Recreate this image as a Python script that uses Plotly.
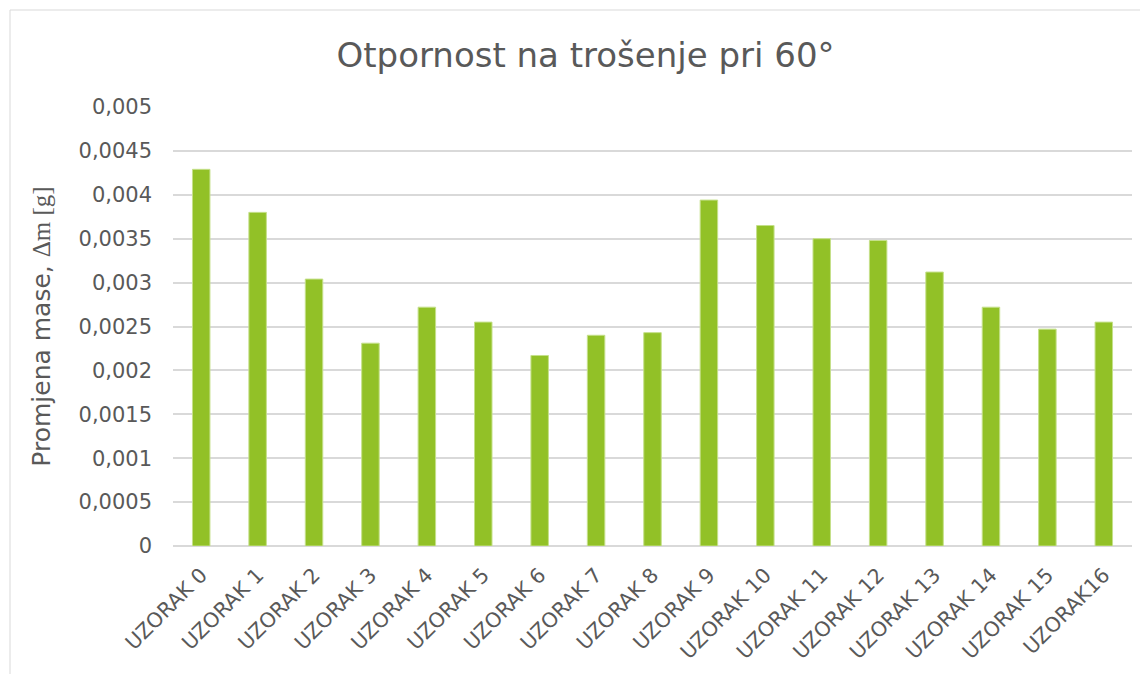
import plotly.graph_objects as go

categories = ["UZORAK 0", "UZORAK 1", "UZORAK 2", "UZORAK 3", "UZORAK 4", "UZORAK 5",
              "UZORAK 6", "UZORAK 7", "UZORAK 8", "UZORAK 9", "UZORAK 10", "UZORAK 11",
              "UZORAK 12", "UZORAK 13", "UZORAK 14", "UZORAK 15", "UZORAK16"]
values = [0.00429, 0.00380, 0.00304, 0.00231, 0.00272, 0.00255, 0.00217, 0.00240,
          0.00243, 0.00394, 0.00365, 0.00350, 0.00348, 0.00312, 0.00272, 0.00247, 0.00255]
tick_vals = [0, 0.0005, 0.001, 0.0015, 0.002, 0.0025, 0.003, 0.0035, 0.004, 0.0045, 0.005]
tick_text = ["0", "0,0005", "0,001", "0,0015", "0,002", "0,0025", "0,003", "0,0035",
             "0,004", "0,0045", "0,005"]

TXT = "#595959"
FONT = "DejaVu Sans"

fig = go.Figure(go.Bar(
    x=categories, y=values,
    marker=dict(color="#92c127", line=dict(color="#c5e08a", width=1)),
))

# page body has an 8px margin, so figure coords are screen coords minus 8
W, H = 1140, 666
L, R, T, B = 165, 16, 99, 128
pw, ph = W - L - R, H - T - B

def px_x(p):
    return (p - L) / pw

def px_y(p):
    return (H - B - p) / ph

fig.update_layout(
    width=W, height=H,
    margin=dict(l=L, r=R, t=T, b=B, autoexpand=False),
    paper_bgcolor="white", plot_bgcolor="white",
    bargap=0.69,
    showlegend=False,
    font=dict(family=FONT, color=TXT),
    title=dict(text="Otpornost na trošenje pri 60°", x=577.5 / W, xanchor="center",
               xref="container", y=1 - 47 / H, yanchor="middle",
               font=dict(size=34, color=TXT, family=FONT)),
    xaxis=dict(tickangle=-45, tickfont=dict(size=20.5, color=TXT), showgrid=False,
               showline=False, ticks="", ticklabelstandoff=12),
    yaxis=dict(range=[0, 0.005], tickvals=tick_vals, ticktext=tick_text,
               tickfont=dict(size=21, color=TXT), showgrid=True, gridcolor="#d9d9d9",
               gridwidth=1.5, zeroline=True, zerolinecolor="#d9d9d9", zerolinewidth=1.5,
               showline=False, ticks="", ticklabelstandoff=20,
               title=dict(text="Promjena mase, <span style='font-family:Liberation Serif'>Δm [g]</span>",
                          font=dict(size=25, color=TXT), standoff=20)),
    shapes=[dict(type="rect", xref="paper", yref="paper",
                 x0=px_x(2), x1=px_x(1160), y0=px_y(700), y1=px_y(2),
                 line=dict(color="#d9d9d9", width=1), fillcolor="rgba(0,0,0,0)", layer="below")],
)

fig.write_html("out.html")
